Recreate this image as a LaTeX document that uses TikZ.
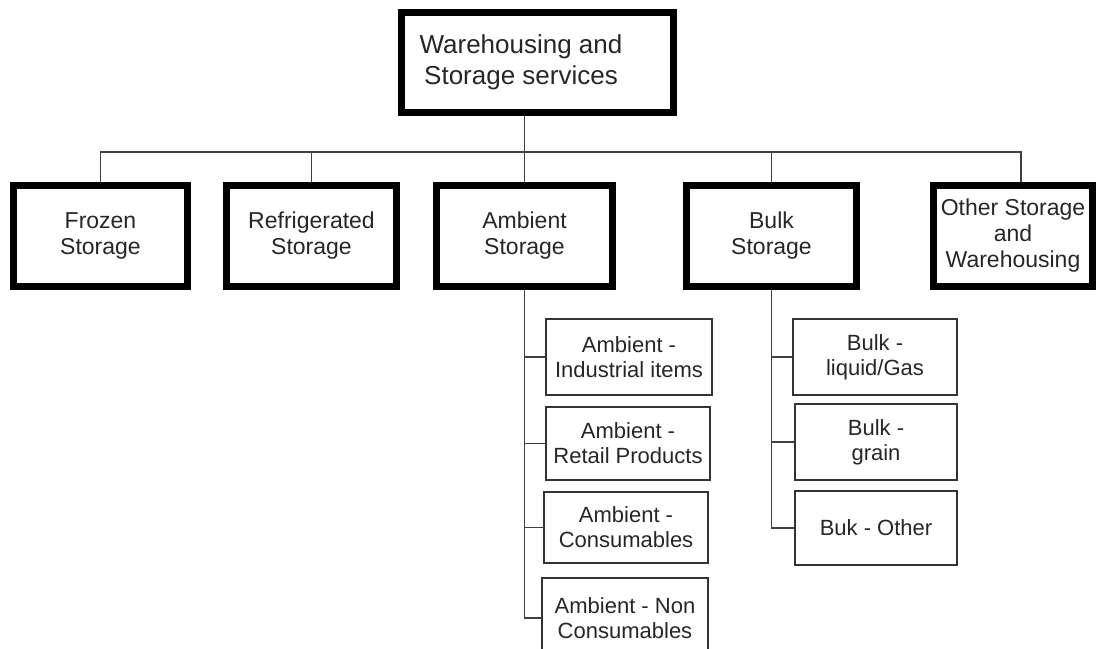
\documentclass[tikz,border=0pt]{standalone}
\usepackage{fontspec}
\setmainfont{Liberation Sans}

\begin{document}
\begin{tikzpicture}[x=1pt, y=-1pt,
  mainbox/.style={draw=black, line width=7pt, inner sep=0pt, align=center,
    text=black!85, font=\fontsize{23}{26}\selectfont, minimum height=101pt},
  subbox/.style={draw=black!80, line width=2pt, inner sep=0pt, align=center,
    text=black!85, font=\fontsize{22}{25}\selectfont},
  link/.style={draw=black!75, line width=1.4pt}]

  \useasboundingbox (0,0) rectangle (1100,648);

  % Top box
  \node[mainbox, minimum width=272pt, minimum height=100pt] (main) at (537.5,62.5) {};
  \node[text=black!85, font=\fontsize{26}{31}\selectfont, align=center] (maintitle) at (521,62)
    {Warehousing and\\Storage services};

  % First level
  \node[mainbox, minimum width=174pt] (frozen) at (100.5,236) {Frozen\\Storage};
  \node[mainbox, minimum width=170pt] (refrig) at (311.5,236) {Refrigerated\\Storage};
  \node[mainbox, minimum width=176pt] (amb) at (524.5,236) {Ambient\\Storage};
  \node[mainbox, minimum width=170pt] (bulk) at (771.5,236) {Bulk\\Storage};
  \node[mainbox, minimum width=159pt] (other) at (1013,236) {Other Storage\\and\\Warehousing};

  % Bus
  \coordinate (bus) at (0,152);
  \coordinate (otherdrop) at ([xshift=8]other.north);
  \draw[link] (frozen.north) |- (bus -| otherdrop) -- (otherdrop);
  \foreach \n in {refrig, bulk}
    \draw[link] (\n.north) -- (\n.north |- bus);
  \draw[link] (main.south -| amb.north) -- (amb.north);

  % Ambient sub-boxes
  \node[subbox, minimum width=166pt, minimum height=76pt] (a1) at (629,357) {Ambient -\\Industrial items};
  \node[subbox, minimum width=164pt, minimum height=73pt] (a2) at (628,443.5) {Ambient -\\Retail Products};
  \node[subbox, minimum width=164pt, minimum height=71pt] (a3) at (626,527.5) {Ambient -\\Consumables};
  \node[subbox, minimum width=166pt, minimum height=80pt] (a4) at (625,618) {Ambient - Non\\Consumables};
  \draw[link] (amb.south) |- (a4.west);
  \foreach \n in {a1, a2, a3}
    \draw[link] (\n.west) -- (\n.west -| amb.south);

  % Bulk sub-boxes
  \node[subbox, minimum width=164pt, minimum height=76pt] (b1) at (875,357) {Bulk -\\liquid/Gas};
  \node[subbox, minimum width=162pt, minimum height=76pt] (b2) at (876,442) {Bulk -\\grain};
  \node[subbox, minimum width=162pt, minimum height=74pt] (b3) at (876,528) {Buk - Other};
  \draw[link] (bulk.south) |- (b3.west);
  \foreach \n in {b1, b2}
    \draw[link] (\n.west) -- (\n.west -| bulk.south);

\end{tikzpicture}
\end{document}
